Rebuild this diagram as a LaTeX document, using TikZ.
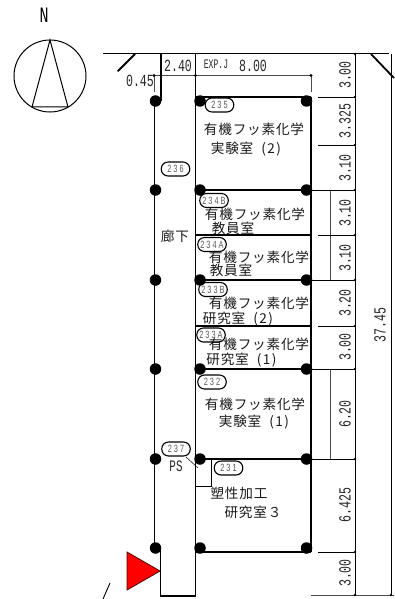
\documentclass[tikz,border=0pt]{standalone}
\usepackage{fontspec}
\newfontfamily\dimf[FakeStretch=0.68]{Liberation Mono}
\newfontfamily\smallf[FakeStretch=0.7]{Liberation Sans}
\newfontfamily\exf[FakeStretch=0.62]{Liberation Mono}
\newfontfamily\cjk[LetterSpace=6]{Noto Sans CJK JP}
\newcommand{\pnum}[1]{\hspace{8pt}(\hspace{1.5pt}#1\hspace{1.5pt})}
\tikzset{
  wall/.style={line width=1.5pt,black},
  thin dim/.style={line width=0.8pt,black!70},
  col/.style={circle,fill=black,inner sep=0pt,minimum size=11.5pt},
  tick/.style={circle,fill=black,inner sep=0pt,minimum size=3.2pt},
  dimtext/.style={font=\dimf\fontsize{17}{17}\selectfont,inner sep=0pt,text=black!85},
  vdim/.style={dimtext,rotate=90},
  roomtext/.style={font=\cjk\fontsize{13.6}{13.6}\selectfont,inner sep=0pt,text=black!90},
  bubble/.style={draw=black,line width=1.1pt,rounded corners=6.8pt,minimum width=28.5pt,minimum height=14pt,inner sep=0pt,font=\smallf\fontsize{10.5}{10.5}\selectfont,text=black!65}
}
\begin{document}
\begin{tikzpicture}[x=1pt,y=-1pt]
\useasboundingbox (0,0) rectangle (394,599);
% north
\node[inner sep=0pt,font=\dimf\fontsize{22}{22}\selectfont,text=black] (north) at (44,15) {N};
\draw[line width=1pt] (50,76) circle (36);
\draw[line width=1pt] (50,40) -- (32,107) -- (68,107) -- cycle;
% top line
\draw[line width=1.4pt] (103,53.5) -- (389,53.5);
\draw[line width=1.8pt,line cap=round] (135,54) -- (118,71);
\draw[line width=1.8pt] (371,54) -- (394,78);
% corridor
\draw[wall] (161,54) -- (161,101);
\draw[wall] (154.5,101) -- (154.5,548);
\draw[wall] (195.5,54) -- (195.5,596);
\draw[wall] (160.7,548) -- (160.7,596) -- (195.5,596);
% rooms
\draw[wall] (311,97) -- (311,552);
\draw[wall] (195.5,97) -- (311,97);
\draw[wall] (195.5,552) -- (311,552);
\foreach \yy in {190,235,280,326,369,459}{\draw[line width=1.1pt] (195.5,\yy) -- (311,\yy);}
% PS
\draw[line width=1pt] (211,459) -- (211,486) -- (195.5,486);
\draw[line width=0.5pt] (186,457) -- (198,468);
% dims top
\draw[thin dim] (154,75.5) -- (311,75.5);
\draw[thin dim] (154,75.5) -- (154,92);
\draw[thin dim] (311,75.5) -- (311,92);
\foreach \xx in {154,161,195.5,311}{\node[tick] at (\xx,75.5) {};}
% dims right
\draw[line width=0.7pt] (355,54) -- (355,595);
\draw[line width=0.7pt] (391,54) -- (391,595);
\draw[thin dim] (330,190) -- (330,280);
\draw[thin dim] (330,369) -- (330,459);
\foreach \yy in {97,145,235,326,552}{\draw[line width=0.7pt] (318,\yy) -- (355,\yy);}
\foreach \yy in {190,280,369,459}{\draw[line width=0.7pt] (311,\yy) -- (355,\yy);}
\draw[thin dim] (311,595) -- (394,595);
\foreach \yy in {54,97,145,190,235,280,326,369,459,552,595}{\node[tick,minimum size=2.8pt] at (355,\yy) {};}
\node[tick,minimum size=2.8pt] at (391,595) {};
% columns
\foreach \cx in {155.5,200,306.5}{\foreach \cy in {190,280,369,459,548}{\node[col] at (\cx,\cy) {};}}
\foreach \cx in {155.5,200,306.5}{\node[col] at (\cx,101) {};}
% room text
\node[roomtext] (t235a) at (254,129) {有機フッ素化学};
\node[roomtext] (t235b) at (246,149) {実験室\pnum{2}};
\node[roomtext] (t234b1) at (255,214) {有機フッ素化学};
\node[roomtext] (t234b2) at (233,228) {教員室};
\node[roomtext] (t234a1) at (259,257) {有機フッ素化学};
\node[roomtext] (t234a2) at (231,270) {教員室};
\node[roomtext] (t233b1) at (259,303) {有機フッ素化学};
\node[roomtext] (t233b2) at (238,319) {研究室\pnum{2}};
\node[roomtext] (t233a1) at (259,344) {有機フッ素化学};
\node[roomtext] (t233a2) at (241.5,360) {研究室\pnum{1}};
\node[roomtext] (t232a) at (255,404) {有機フッ素化学};
\node[roomtext] (t232b) at (254,422) {実験室\pnum{1}};
\node[roomtext] (t231a) at (239,493) {塑性加工};
\node[roomtext] (t231b) at (253,512) {研究室３};
\node[roomtext] (t236) at (175,236) {廊下};
\node[inner sep=0pt,font=\dimf\fontsize{16}{16}\selectfont,text=black!85] (ps) at (176,466) {PS};
% bubbles
\node[bubble] (r235) at (219.5,105) {2 3 5};
\node[bubble] (r236) at (175.5,169) {2 3 6};
\node[bubble] (r234b) at (214,200.5) {2 3 4 B};
\node[bubble] (r234a) at (212,244.5) {2 3 4 A};
\node[bubble] (r233b) at (213,289.5) {2 3 3 B};
\node[bubble] (r233a) at (211,335) {2 3 3 A};
\node[bubble] (r232) at (212,382) {2 3 2};
\node[bubble] (r237) at (176,449) {2 3 7};
\node[bubble] (r231) at (228.5,468) {2 3 1};
% dim text
\node[dimtext] (d1) at (178,66) {2.40};
\node[dimtext] (d2) at (140,81) {0.45};
\node[inner sep=0pt,font=\exf\fontsize{13}{13}\selectfont,text=black!85] (d3) at (216,64) {EXP.J};
\node[dimtext] (d4) at (253,66) {8.00};
\node[vdim] at (345,75) {3.00};
\node[vdim] at (345,121) {3.325};
\node[vdim] at (345,168) {3.10};
\node[vdim] at (345,213) {3.10};
\node[vdim] at (345,258) {3.10};
\node[vdim] at (345,303) {3.20};
\node[vdim] at (345,347) {3.00};
\node[vdim] at (345,414) {6.20};
\node[vdim] at (345,505) {6.425};
\node[vdim] at (345,573) {3.00};
\node[vdim] at (380,325) {37.45};
% entrance arrow
\draw[fill=red,line width=0.8pt,draw=black!70!red] (127,552) -- (160,571) -- (127,590) -- cycle;
\draw[line width=0.9pt] (110,583) -- (103,599);
\end{tikzpicture}
\end{document}
